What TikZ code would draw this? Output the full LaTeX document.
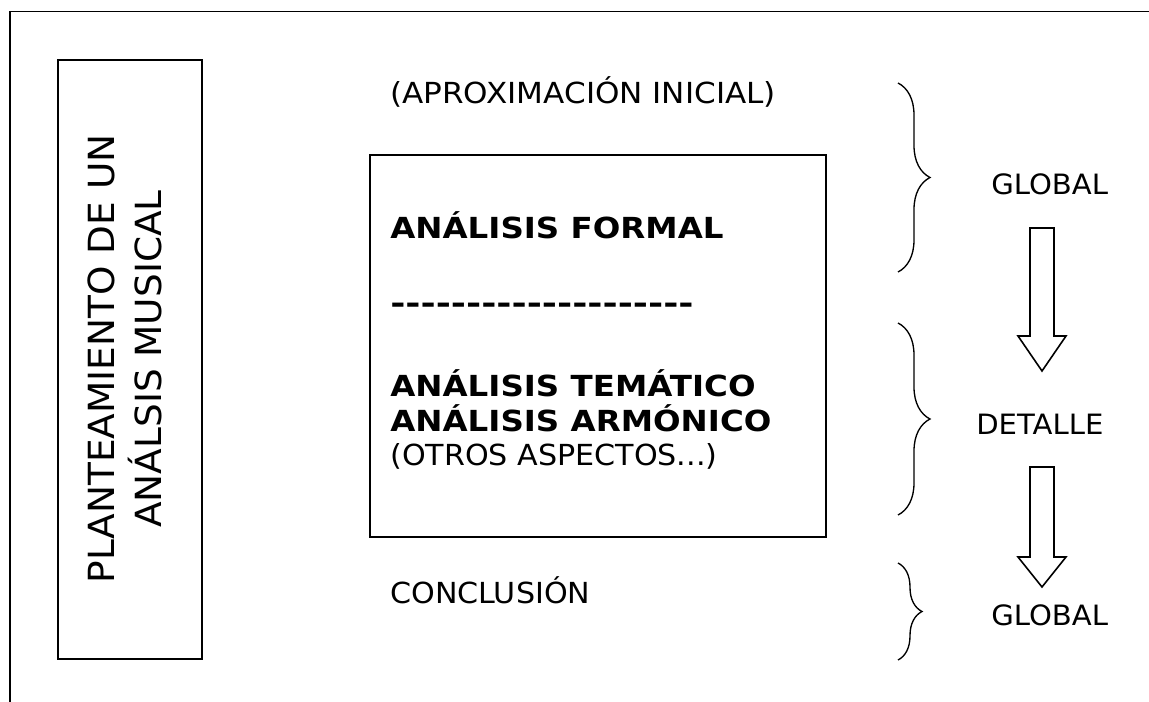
\documentclass[tikz,border=0pt]{standalone}
\usepackage{fontspec}
\setmainfont{DejaVu Sans}[Ligatures=TeXOff, FakeStretch=1.04]
\newfontfamily\heavyfont{DejaVu Sans Bold}[Ligatures=TeXOff, FakeStretch=1.12]
\usepackage{tikz}
\usetikzlibrary{decorations.pathreplacing}
\tikzstyle{frame} = [draw=black, line width=1.2pt]
\tikzstyle{txt} = [anchor=base west, inner sep=0pt, font=\fontsize{21.75}{26}\selectfont]
\tikzstyle{boldtxt} = [txt, font=\fontsize{21.75}{26}\selectfont\heavyfont]
\tikzstyle{sidetxt} = [txt, font=\fontsize{21}{26}\selectfont]
\tikzstyle{bigbrace} = [decorate, line width=1pt, decoration={brace, amplitude=24pt}]
\tikzstyle{fatarrow} = [draw=black, line width=1.2pt, fill=white]

\begin{document}
\begin{tikzpicture}[x=0.75pt, y=-0.75pt]
    \useasboundingbox (0,0) rectangle (1149,702);

    % Outer frame
    \draw [frame] (10,702) -- (10,11.5) -- (1149,11.5);

    % Left box
    \draw [frame] (58,60) rectangle (202,659);
    \node (title) [rotate=90, align=center, inner sep=0pt,
        font=\fontsize{27}{35.25}\selectfont] at (125,359)
        {PLANTEAMIENTO DE UN\\ANÁLSIS MUSICAL};

    % Main box
    \draw [frame] (370,155) rectangle (826,537);

    % Texts
    \node (aprox) [txt, xscale=1.03] at (390,104) {(APROXIMACIÓN INICIAL)};
    \node (formal) [boldtxt] at (390,239) {ANÁLISIS FORMAL};
    \node (dashes) [boldtxt, xscale=1.125] at (390,314) {--------------------};
    \node (tema) [boldtxt] at (390,396) {ANÁLISIS TEMÁTICO};
    \node (armo) [boldtxt] at (390,431) {ANÁLISIS ARMÓNICO};
    \node (otros) [txt] at (390,465) {(OTROS ASPECTOS...)};
    \node (concl) [txt] at (390,603) {CONCLUSIÓN};

    \node (global1) [sidetxt] at (991,195) {GLOBAL};
    \node (detalle) [sidetxt] at (976,434) {DETALLE};
    \node (global2) [sidetxt] at (991,625) {GLOBAL};

    % Braces
    \coordinate (b1top) at (898,83);
    \coordinate (b1bot) at (898,272);
    \coordinate (b2top) at (898,323);
    \coordinate (b2bot) at (898,515);
    \coordinate (b3top) at (898,563);
    \coordinate (b3bot) at (898,660);
    \draw [bigbrace] (b1top) -- (b1bot);
    \draw [bigbrace] (b2top) -- (b2bot);
    \draw [bigbrace, decoration={amplitude=18pt}] (b3top) -- (b3bot);

    % Arrows
    \draw [fatarrow] (1030,228) -- (1054,228) -- (1054,336) -- (1066,336)
        -- (1042,371) -- (1018,336) -- (1030,336) -- cycle;
    \draw [fatarrow] (1030,467) -- (1054,467) -- (1054,557) -- (1066,557)
        -- (1042,587) -- (1018,557) -- (1030,557) -- cycle;

\end{tikzpicture}
\end{document}
